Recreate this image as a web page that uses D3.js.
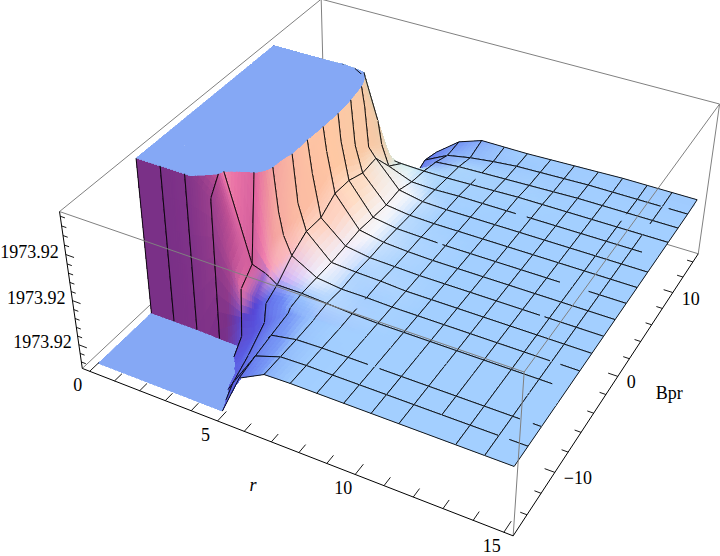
<!DOCTYPE html>
<html><head><meta charset="utf-8"><style>html,body{margin:0;background:#fff}svg{display:block}text{font-family:"Liberation Serif",serif;font-size:18px;fill:#000}</style>
<script src="https://cdnjs.cloudflare.com/ajax/libs/d3/7.8.5/d3.min.js"></script></head><body><svg id="c" width="720" height="556"></svg>
<script>
const rValues=[0,.9375,1.875,2.8125,3.75,4.25,4.4,4.6875,5.625,6.5625,7.5,8.4375,9.375,10.3125,11.25,12.1875,13.125,14.0625,15];
const bprValues=[-15,-13.125,-11.25,-9.2,-8.9,-7.5,-5.625,-3.75,-1.875,0,1.875,3.75,5.625,7.5,9.375,11.25,13.125,15];
// surface height, one row per Bpr value, one column per r value; 0 and 1 are the clip planes of the plot box
const heightRows=[
[-.6,-.6,-.6,-.6,-.5,-.45,-.4,-.07,.27,.355,.36,.36,.36,.36,.36,.36,.36,.36,.36],
[-.6,-.6,-.6,-.6,-.5,-.15,-.02,.06,.3,.355,.36,.36,.36,.36,.36,.36,.36,.36,.36],
[-.6,-.6,-.6,-.6,-.08,.03,.07,.13,.325,.355,.36,.36,.36,.36,.36,.36,.36,.36,.36],
[-1,-1,-1,-.3,.08,.13,.17,.23,.35,.36,.36,.36,.36,.36,.36,.36,.36,.36,.36],
[1.02,1.02,1.03,.9,.38,.355,.35,.34,.37,.365,.36,.36,.36,.36,.36,.36,.36,.36,.36],
[2.5,2.5,1.2,1.04,.465,.435,.42,.385,.385,.375,.365,.36,.36,.36,.36,.36,.36,.36,.36],
[2.5,2.5,2.5,2,1.7,.73,.59,.475,.385,.365,.365,.36,.36,.36,.36,.36,.36,.36,.36],
[2.5,2.5,2.5,2,1.3,1,.7,.535,.385,.375,.37,.36,.36,.36,.36,.36,.36,.36,.36],
[2.5,2.5,2.5,2,1.5,1,.8,.53,.395,.37,.365,.36,.36,.36,.36,.36,.36,.36,.36],
[2.5,2.5,2.5,2,1.6,1.05,.85,.595,.405,.375,.365,.36,.36,.36,.36,.36,.36,.36,.36],
[2.5,2.5,2.5,2,1.6,1.1,.83,.59,.395,.37,.365,.36,.36,.36,.36,.36,.36,.36,.36],
[2.5,2.5,2.5,2,1.5,1,.72,.55,.385,.365,.36,.36,.36,.36,.36,.36,.36,.36,.36],
[2.5,2.5,2.5,2,1.4,.88,.62,.56,.395,.365,.36,.36,.36,.36,.36,.36,.36,.36,.36],
[1.02,1.02,1.02,1.05,.96,.7,.55,.42,.36,.355,.36,.36,.36,.36,.36,.36,.36,.36,.36],
[-1,-1,-1,.3,.3,.355,.355,.35,.345,.345,.35,.355,.36,.36,.36,.36,.36,.36,.36],
[-1,-1,-1,-.5,-.3,-.05,.03,.15,.32,.335,.34,.345,.35,.355,.36,.36,.36,.36,.36],
[-1,-1,-1,-1,-.3,-.05,.03,.2,.28,.31,.33,.345,.35,.355,.36,.36,.36,.36,.36],
[-1,-1,-1,-1,-.3,.03,.08,.17,.29,.345,.345,.345,.35,.355,.36,.365,.365,.365,.365]];
const rMeshSkip=[4.25,4.4];
const bprMeshSkip=[-9.2,-8.9];
// pieces of the mesh lines that are absent from the picture: [Bpr, r from, r to] and [r, Bpr from, Bpr to]
const rowGaps=[[-13.125,14.05,14.4],[-11.25,0,5.5],[-11.25,9.14,9.55],[-11.25,14.3,14.72],[-7.5,14.5,15],[-5.625,14,14.35],[1.875,8.13,8.32],[1.875,12.66,13.68],[7.5,9.73,10.15],[7.5,14.42,15],[-1.875,12.8,12.96],[13.125,14,14.3]];
const colGaps=[[12.1875,-15,-13.125],[7.5,-6.9,-5.8],[7.5,10.2,11.2],[13.125,10.2,11.1],[14.0625,9.3,10.8]];
const rTicks=d3.range(0,16);
const rLabels=[0,5,10,15];
const bprTicks=d3.range(-14,16,2);
const bprLabels=[-10,0,10];
const heightTicks=d3.range(.044,1,.058);
const heightLabels=[.16,.45,.74];
const heightText="1973.92";

const rDomain=[-.3,15.3],bprDomain=[-15.9,15.1];
const u=d3.scaleLinear().domain(rDomain).range([0,1]);
const v=d3.scaleLinear().domain(bprDomain).range([0,1]);
const w=d3.scaleLinear().domain([0,1]).range([0,1]);
// camera calibration: where the eight corners of the plot box fall on the page
const cam=[[0,0,0,83,368],[1,0,0,514,536],[1,1,0,699,252],[0,1,0,323,143],[0,0,1,59,211],[1,0,1,523,373],[1,1,1,719,105],[0,1,1,323,-2]];
function solve(A,b){const n=b.length,M=A.map((r,i)=>[...r,b[i]]);for(let i=0;i<n;i++){let p=i;for(let k=i+1;k<n;k++)if(Math.abs(M[k][i])>Math.abs(M[p][i]))p=k;[M[i],M[p]]=[M[p],M[i]];for(let k=0;k<n;k++)if(k!==i){const f=M[k][i]/M[i][i];for(let c=i;c<=n;c++)M[k][c]-=f*M[i][c];}}return M.map((r,i)=>r[n]/r[i]);}
const rows=[],rhs=[];cam.forEach(([a,b,c,x,y])=>{rows.push([1,a,b,c,0,0,0,0,-x*a,-x*b,-x*c]);rhs.push(x);rows.push([0,0,0,0,1,a,b,c,-y*a,-y*b,-y*c]);rhs.push(y);});
const ATA=d3.range(11).map(i=>d3.range(11).map(j=>d3.sum(rows,r=>r[i]*r[j])));
const ATb=d3.range(11).map(i=>d3.sum(rows,(r,k)=>r[i]*rhs[k]));
const H=solve(ATA,ATb);
function project(r,b,z){const a=u(r),c=v(b),e=w(z),d=1+H[8]*a+H[9]*c+H[10]*e;return[(H[0]+H[1]*a+H[2]*c+H[3]*e)/d,(H[4]+H[5]*a+H[6]*c+H[7]*e)/d];}

const clipFace="#85a8f5";
const gDom=[0,.03,.08,.28,.8];
const ramps=[
 [-180,["#a3cfff","#93bcfb","#7a9cf6","#5f6cea","#5a58e0"]],
 [-90,["#a3cfff","#8fb4fb","#6e88f4","#5548d8","#7a3087"]],
 [-45,["#a3cfff","#b6c4fa","#d0b4f6","#f488b4","#e0609a"]],
 [0,["#a3cfff","#d4e6fd","#f6f6fb","#ffdcc4","#ffc8a4"]],
 [90,["#a3cfff","#bfe4fa","#d6f0f4","#b8e4d4","#a4d4bc"]],
 [180,["#a3cfff","#93bcfb","#7a9cf6","#5f6cea","#5a58e0"]]].map(([t,c])=>[t,d3.scaleLinear().domain(gDom).range(c).clamp(true)]);
function shade(gr,gb){const g=Math.hypot(gr,gb);const t=Math.atan2(-gb,-gr)*180/Math.PI;let i=0;while(i<ramps.length-2&&t>ramps[i+1][0])i++;const f=(t-ramps[i][0])/(ramps[i+1][0]-ramps[i][0]);return d3.interpolateRgb(ramps[i][1](g),ramps[i+1][1](g))(f);}
const cl=z=>Math.max(-.2,Math.min(1.4,z));
const nB=bprValues.length,nR=rValues.length;
const gradR=(k,j)=>{const a=Math.max(j-1,0),b=Math.min(j+1,nR-1);return(cl(heightRows[k][b])-cl(heightRows[k][a]))/(rValues[b]-rValues[a])*1.07;};
const gradB=(k,j)=>{const a=Math.max(k-1,0),b=Math.min(k+1,nB-1);return(cl(heightRows[b][j])-cl(heightRows[a][j]))/(bprValues[b]-bprValues[a])*1.875;};
function clipPoly(p,side,lim){const out=[];for(let i=0;i<p.length;i++){const a=p[i],b=p[(i+1)%p.length],ina=side*(a[2]-lim)>=0,inb=side*(b[2]-lim)>=0;if(ina)out.push(a);if(ina!==inb){const t=(lim-a[2])/(b[2]-a[2]);out.push([a[0]+t*(b[0]-a[0]),a[1]+t*(b[1]-a[1]),lim]);}}return out;}
const svg=d3.select("#c");
const rear=svg.append("g"),surf=svg.append("g"),front=svg.append("g");
const boxGrey="#808080";
function boxLine(g,a,b,col,wd){const p=project(...a),q=project(...b);g.append("line").attr("x1",p[0]).attr("y1",p[1]).attr("x2",q[0]).attr("y2",q[1]).attr("stroke",col).attr("stroke-width",wd);}
const [r0,r1]=rDomain,[b0,b1]=bprDomain;
[[[r0,b1,1],[r0,b0,1]],[[r0,b1,1],[r1,b1,1]],[[r0,b1,1],[r0,b1,0]],[[r0,b0,0],[r0,b1,0]],[[r0,b1,0],[r1,b1,0]],[[r1,b1,0],[r1,b1,1]]].forEach(([a,b])=>boxLine(rear,a,b,boxGrey,1));
const toPath=pts=>"M"+pts.map(p=>project(p[0],p[1],p[2]).map(x=>x.toFixed(2)).join(",")).join("L")+"Z";
function piece(pts,col){if(pts.length<3)return;surf.append("path").attr("d",toPath(pts)).attr("fill",col).attr("stroke",col).attr("stroke-width",.6).attr("shape-rendering","crispEdges");}
// draw the part of a mesh edge that lies inside the clip planes and is not in a gap; gaps are measured along 'key' (0 = r, 1 = Bpr)
function meshEdge(a,b,gaps,key){let t0=0,t1=1;const dz=b[2]-a[2];if(dz===0){if(a[2]<0||a[2]>1)return;}else{const ta=(0-a[2])/dz,tb=(1-a[2])/dz;t0=Math.max(t0,Math.min(ta,tb));t1=Math.min(t1,Math.max(ta,tb));if(t0>=t1)return;}
 const at=t=>project(a[0]+t*(b[0]-a[0]),a[1]+t*(b[1]-a[1]),a[2]+t*dz);
 let spans=[[t0,t1]];
 gaps.forEach(g=>{const ga=(g[0]-a[key])/(b[key]-a[key]),gb=(g[1]-a[key])/(b[key]-a[key]);spans=spans.flatMap(([s,e])=>{if(gb<=s||ga>=e)return[[s,e]];const o=[];if(ga>s)o.push([s,ga]);if(gb<e)o.push([gb,e]);return o;});});
 spans.forEach(([s,e])=>{const p=at(s),q=at(e);surf.append("line").attr("x1",p[0]).attr("y1",p[1]).attr("x2",q[0]).attr("y2",q[1]).attr("stroke","#000").attr("stroke-width",.9);});}
const R=rValues,B=bprValues;
const rowGapsAt=b=>rowGaps.filter(g=>g[0]===b).map(g=>[g[1],g[2]]);
const colGapsAt=r=>colGaps.filter(g=>g[0]===r).map(g=>[g[1],g[2]]);
for(let k=nB-2;k>=0;k--)for(let j=0;j<nR-1;j++){
 const Z=(kk,jj)=>heightRows[kk][jj];
 const z=[Z(k,j),Z(k,j+1),Z(k+1,j),Z(k+1,j+1)];
 const gr=[gradR(k,j),gradR(k,j+1),gradR(k+1,j),gradR(k+1,j+1)],gb=[gradB(k,j),gradB(k,j+1),gradB(k+1,j),gradB(k+1,j+1)];
 const busy=d3.max(z)-d3.min(z)>.002||d3.max(gr)-d3.min(gr)>.002||d3.max(gb)-d3.min(gb)>.002;
 const n=busy?(d3.max(z)-d3.min(z)>.3?10:6):1;
 const bil=(q,s,t)=>q[0]*(1-s)*(1-t)+q[1]*s*(1-t)+q[2]*(1-s)*t+q[3]*s*t;
 const pt=(s,t)=>[R[j]+s*(R[j+1]-R[j]),B[k]+t*(B[k+1]-B[k]),bil(z,s,t)];
 const lo=[],mid=[],hi=[];
 for(let a=n-1;a>=0;a--)for(let c=0;c<n;c++){
  const s0=c/n,s1=(c+1)/n,t0=a/n,t1=(a+1)/n;
  const col=shade(bil(gr,(s0+s1)/2,(t0+t1)/2),bil(gb,(s0+s1)/2,(t0+t1)/2));
  [[pt(s0,t0),pt(s1,t0),pt(s1,t1)],[pt(s0,t0),pt(s1,t1),pt(s0,t1)]].forEach(tri=>{
   const below=clipPoly(tri,-1,0);if(below.length>2)lo.push(below.map(p=>[p[0],p[1],0]));
   const above=clipPoly(tri,1,1);if(above.length>2)hi.push(above.map(p=>[p[0],p[1],1]));
   const inner=clipPoly(clipPoly(tri,1,0),-1,1);if(inner.length>2)mid.push([inner,col]);
  });
 }
 lo.forEach(p=>piece(p,clipFace));mid.forEach(([p,c])=>piece(p,c));hi.forEach(p=>piece(p,clipFace));
 const rowOn=i=>!bprMeshSkip.includes(B[i]),colOn=i=>!rMeshSkip.includes(R[i]);
 if(rowOn(k))meshEdge(pt(0,0),pt(1,0),rowGapsAt(B[k]),0);
 if(rowOn(k+1))meshEdge(pt(0,1),pt(1,1),rowGapsAt(B[k+1]),0);
 if(colOn(j))meshEdge(pt(0,0),pt(0,1),colGapsAt(R[j]),1);
 if(colOn(j+1))meshEdge(pt(1,0),pt(1,1),colGapsAt(R[j+1]),1);
}
[[[r0,b0,1],[r1,b0,1]],[[r1,b0,1],[r1,b1,1]],[[r1,b0,0],[r1,b0,1]]].forEach(([a,b])=>boxLine(front,a,b,boxGrey,1));
[[[r0,b0,0],[r1,b0,0]],[[r1,b0,0],[r1,b1,0]],[[r0,b0,0],[r0,b0,1]]].forEach(([a,b])=>boxLine(front,a,b,"#000",1));
rTicks.forEach(t=>boxLine(front,[t,b0,0],[t,b0+(t%5===0?1:.8),0],"#000",.9));
bprTicks.forEach(t=>boxLine(front,[r1,t,0],[r1-(t%10===0?.34:.22),t,0],"#000",.9));
heightTicks.forEach(t=>boxLine(front,[r0,b0,t],[r0+(heightLabels.some(h=>Math.abs(h-t)<.02)?.32:.18),b0,t],"#000",.9));
function label(p,dx,dy,txt,anchor,style){const s=front.append("text").attr("x",p[0]+dx).attr("y",p[1]+dy).attr("text-anchor",anchor).text(txt);if(style)s.attr("font-style",style);return s;}
rLabels.forEach(t=>label(project(t,b0,0),-12,20,t,"middle"));
bprLabels.forEach(t=>label(project(r1,t,0),9,12,String(t).replace("-","\u2212"),"start"));
heightLabels.forEach(t=>label(project(r0,b0,t),-7,3,heightText,"end"));
label(project(7.5,b0,0),-32,44,"r","middle","italic");
label(project(r1,0,0),38,23,"Bpr","start");
</script></body></html>
